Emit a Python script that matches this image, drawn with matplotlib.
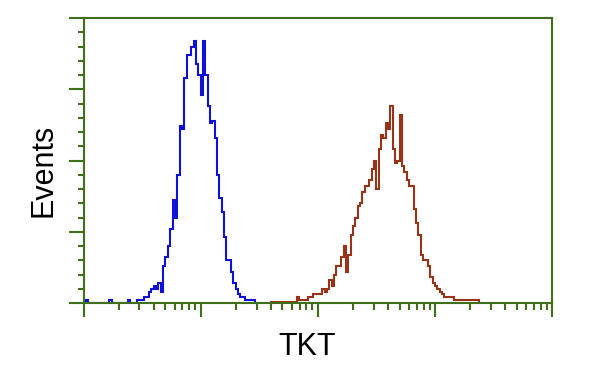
import numpy as np
import matplotlib.pyplot as plt
from matplotlib.ticker import LogLocator, MultipleLocator, NullFormatter

# histogram counts (% of max scale), channels are 0.02 decades wide
bin_width = 0.02

blue_start = 0.02
blue_counts = [1, 0, 0, 0, 0, 0, 0, 0, 0, 0, 1, 0, 0, 0, 0, 0, 0, 0, 1, 0, 0, 0, 1,
               1, 1, 2, 2, 4, 5, 6, 5, 7, 4, 13, 16, 20, 26, 36, 30, 45, 62, 61, 79,
               87, 87, 90, 92, 84, 80, 73, 92, 80, 69, 63, 64, 58, 45, 37, 32, 23, 15,
               15, 11, 7, 5, 3, 2, 2, 1, 1, 1, 1]

red_start = 1.60
red_counts = [0.5, 0.5, 0.5, 0.5, 0.5, 0.5, 0.5, 0.5, 0.5, 0.5, 0.5, 2, 1, 1, 1, 1,
              2, 2, 3, 3, 3, 3, 5, 4, 5, 8, 6, 10, 13, 13, 16, 20, 11, 17, 24, 27,
              30, 34, 35, 39, 41, 41, 43, 47, 50, 40, 54, 59, 58, 63, 61, 69, 54, 49,
              50, 66, 48, 46, 43, 41, 41, 33, 28, 24, 17, 15, 15, 13, 9, 7, 6, 5, 4,
              3, 2, 2, 2, 2, 1, 1, 1, 1, 1, 1, 1, 1, 1, 1, 1]

x_label = 'TKT'
y_label = 'Events'

frame_color = '#3f6f1a'

plt.rcParams['font.family'] = ['Liberation Sans', 'DejaVu Sans']

fig = plt.figure(figsize=(6, 3.75), dpi=100)
ax = fig.add_axes([83.5 / 600, 1 - 303 / 375, (552 - 83.5) / 600, (303 - 18) / 375])

blue_edges = 10 ** (blue_start + bin_width * np.arange(len(blue_counts) + 1))
red_edges = 10 ** (red_start + bin_width * np.arange(len(red_counts) + 1))

ax.stairs(blue_counts, blue_edges, color='#1010d8', linewidth=1.5)
ax.stairs(red_counts, red_edges, color='#993318', linewidth=1.5)

ax.set_xscale('log')
ax.set_xlim(1, 1e4)
ax.set_ylim(0, 100)

ax.xaxis.set_major_locator(LogLocator(base=10, numticks=10))
ax.xaxis.set_minor_locator(LogLocator(base=10, subs=np.arange(2, 10), numticks=50))
ax.xaxis.set_minor_formatter(NullFormatter())
ax.yaxis.set_major_locator(MultipleLocator(25))
ax.yaxis.set_minor_locator(MultipleLocator(5))

ax.tick_params(axis='both', which='both', direction='out', color=frame_color,
               labelbottom=False, labelleft=False, top=False, right=False)
ax.tick_params(axis='x', which='major', length=10, width=1.5)
ax.tick_params(axis='x', which='minor', length=5, width=1.5)
ax.tick_params(axis='y', which='major', length=10.5, width=1.5)
ax.tick_params(axis='y', which='minor', length=4.5, width=1.5)

for s in ax.spines.values():
    s.set_color(frame_color)
    s.set_linewidth(1.5)

fig.text(307 / 600, 1 - 355 / 375, x_label, fontsize=22, ha='center', va='baseline')
fig.text(43 / 600, 1 - 170 / 375, y_label, fontsize=22, ha='center', va='center',
         rotation=90)

plt.savefig('out.png')
